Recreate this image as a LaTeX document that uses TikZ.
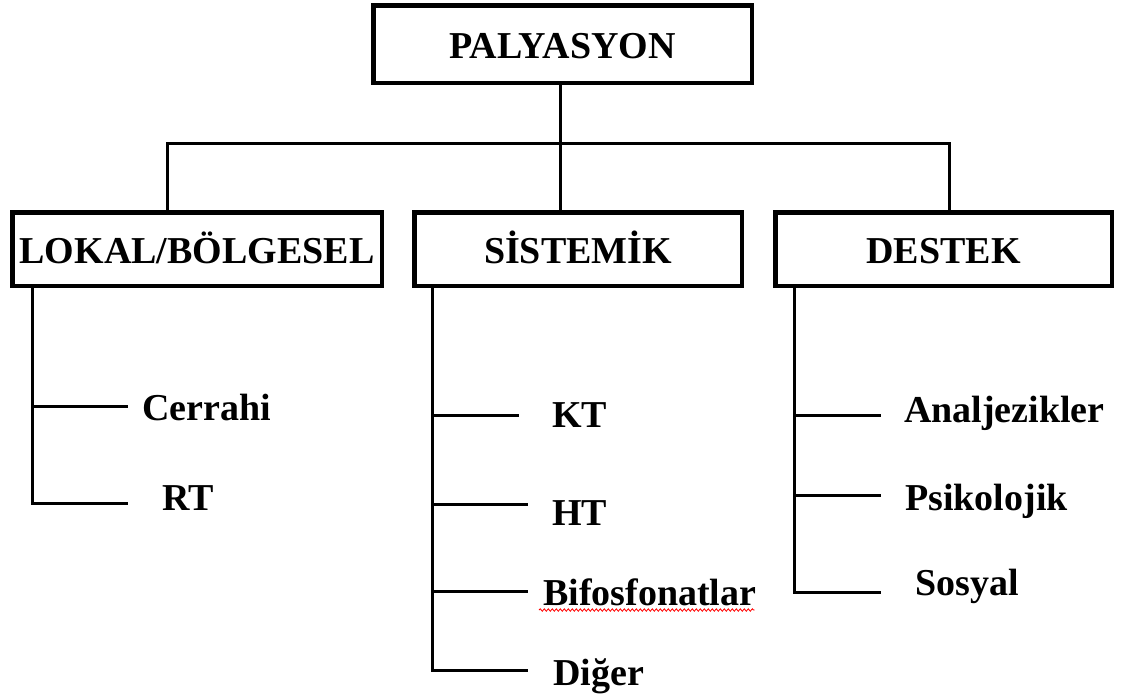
\documentclass[tikz,border=0pt]{standalone}
\usepackage{fontspec}
\setmainfont{Liberation Serif}
\usetikzlibrary{decorations.pathmorphing}
\begin{document}
\begin{tikzpicture}[x=1pt,y=-1pt,
  txt/.style={font=\fontsize{38}{40}\selectfont\bfseries, inner sep=0pt},
  box/.style={txt, draw, line width=4.5pt, text height=28pt, text depth=0pt},
  conn/.style={line width=3pt},
  item/.style={txt, anchor=base west}]
\useasboundingbox (0,0) rectangle (1123,697);
\fill[white] (0,0) rectangle (1123,697);
% boxes
\node[box, minimum width=378.5pt, minimum height=77.5pt] (top) at (562.5,44) {PALYASYON};
\node[box, minimum width=369.5pt, minimum height=73.5pt] (lok) at (197,249) {LOKAL/BÖLGESEL};
\node[box, minimum width=327.5pt, minimum height=73.5pt] (sis) at (578,249) {SİSTEMİK};
\node[box, minimum width=336.5pt, minimum height=73.5pt] (des) at (943.5,249) {DESTEK};
% top connectors
\coordinate (hub) at (560,143);
\coordinate (hl) at (167,143);
\coordinate (hr) at (949,143);
\draw[conn] (hub |- top.south) -- (hub |- sis.north);
\draw[conn] (hl |- lok.north) -- (hl) -- (hr) -- (hr |- des.north);
% LOKAL branch
\coordinate (lA) at (32,406);
\coordinate (lB) at (32,503);
\coordinate (lAe) at (128,406);
\coordinate (lBe) at (128,503);
\draw[conn] (lok.south -| lB) -- (lB) -- (lBe);
\draw[conn] (lA) -- (lAe);
\node[item] (cer) at (142,420) {Cerrahi};
\node[item] (rt) at (162,510) {RT};
% SISTEMIK branch
\coordinate (sA) at (432,415);
\coordinate (sB) at (432,504);
\coordinate (sC) at (432,591);
\coordinate (sD) at (432,670);
\coordinate (sAe) at (519,415);
\coordinate (sBe) at (528,504);
\coordinate (sCe) at (528,591);
\coordinate (sDe) at (528,670);
\draw[conn] (sis.south -| sD) -- (sD) -- (sDe);
\draw[conn] (sA) -- (sAe);
\draw[conn] (sB) -- (sBe);
\draw[conn] (sC) -- (sCe);
\node[item] (kt) at (552,427) {KT};
\node[item] (ht) at (552,525) {HT};
\node[item] (bif) at (543,605) {Bifosfonatlar};
\node[item] (dig) at (553,685) {Diğer};
\draw[red, line width=0.8pt, decorate, decoration={snake, amplitude=1.2pt, segment length=4pt}]
  ([xshift=-4pt, yshift=-5pt]bif.base west) -- ([xshift=-2pt, yshift=-5pt]bif.base east);
% DESTEK branch
\coordinate (dA) at (794,415);
\coordinate (dB) at (794,495);
\coordinate (dC) at (794,592);
\coordinate (dAe) at (881,415);
\coordinate (dBe) at (881,495);
\coordinate (dCe) at (881,592);
\draw[conn] (des.south -| dC) -- (dC) -- (dCe);
\draw[conn] (dA) -- (dAe);
\draw[conn] (dB) -- (dBe);
\node[item] (ana) at (904,422) {Analjezikler};
\node[item] (psi) at (905,510) {Psikolojik};
\node[item] (sos) at (915,595) {Sosyal};
\end{tikzpicture}
\end{document}
